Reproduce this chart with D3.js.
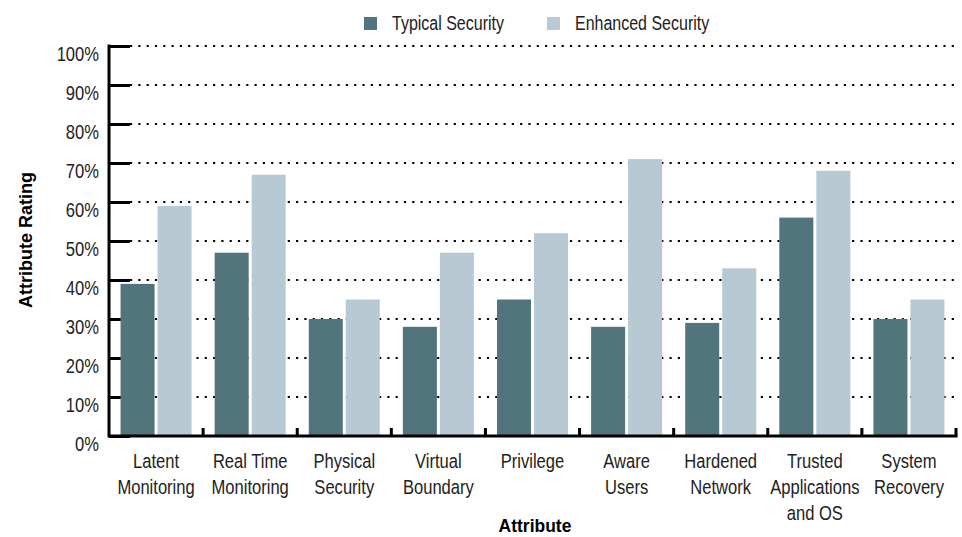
<!DOCTYPE html>
<html>
<head>
<meta charset="utf-8">
<script src="https://cdn.jsdelivr.net/npm/d3@7"></script>
<style>
  html, body { margin: 0; padding: 0; background: #fff; }
  svg { display: block; }
  text { font-family: "Liberation Sans", Arial, sans-serif; fill: #222; }
</style>
</head>
<body>
<svg id="chart" width="962" height="537"></svg>
<script>
// Attribute ratings, in percent
const categories = [
  ["Latent", "Monitoring"],
  ["Real Time", "Monitoring"],
  ["Physical", "Security"],
  ["Virtual", "Boundary"],
  ["Privilege"],
  ["Aware", "Users"],
  ["Hardened", "Network"],
  ["Trusted", "Applications", "and OS"],
  ["System", "Recovery"]
];
const seriesNames = ["Typical Security", "Enhanced Security"];
const typical  = [39, 47, 30, 28, 35, 28, 29, 56, 30];
const enhanced = [59, 67, 35, 47, 52, 71, 43, 68, 35];
const yTicks = [0, 10, 20, 30, 40, 50, 60, 70, 80, 90, 100];
const colors = ["#51747d", "#b7c9d2"];

const svg = d3.select("#chart");
const plotLeft = 109, plotRight = 956, plotTop = 46, plotBottom = 436;
const narrow = 0.85;   // horizontal squeeze for a condensed look
const fs = "19.5px";

const keys = categories.map(c => c.join(" "));
const x0 = d3.scaleBand().domain(keys).range([plotLeft, plotRight]).padding(0);
const x1 = d3.scaleBand().domain(seriesNames).range([0, x0.bandwidth()])
  .paddingInner(0.081).paddingOuter(0.312);
const y = d3.scaleLinear().domain([0, 100]).range([plotBottom, plotTop]);

// dotted horizontal grid
svg.append("g").selectAll("line").data(yTicks.filter(t => t > 0)).join("line")
  .attr("x1", plotLeft + 21).attr("x2", plotRight + 2)
  .attr("y1", d => y(d)).attr("y2", d => y(d))
  .attr("stroke", "#000").attr("stroke-width", 2.2)
  .attr("stroke-dasharray", "2.2,6.1");

// y-axis with long heavy ticks
const yAxis = svg.append("g").attr("transform", `translate(${plotLeft},0)`)
  .call(d3.axisLeft(y).tickValues(yTicks).tickFormat(d => d + "%").tickSize(-21));
yAxis.select(".domain").remove();
yAxis.selectAll(".tick line").attr("stroke", "#000").attr("stroke-width", 3);
yAxis.selectAll(".tick text")
  .attr("x", null).attr("dy", null)
  .attr("transform", `translate(-10,14) scale(${narrow},1)`)
  .attr("text-anchor", "end")
  .style("font-size", fs).style("fill", "#222");

// bars
const groups = svg.append("g").selectAll("g").data(keys).join("g")
  .attr("transform", d => `translate(${x0(d)},0)`);
groups.selectAll("rect")
  .data((d, i) => seriesNames.map((s, j) => ({ s, v: j === 0 ? typical[i] : enhanced[i], j })))
  .join("rect")
  .attr("x", d => x1(d.s))
  .attr("width", x1.bandwidth())
  .attr("y", d => y(d.v))
  .attr("height", d => plotBottom - y(d.v))
  .attr("fill", d => colors[d.j]);

// axis frame lines
svg.append("line").attr("x1", plotLeft).attr("x2", plotLeft).attr("y1", plotTop - 1.5).attr("y2", plotBottom + 1.5)
  .attr("stroke", "#000").attr("stroke-width", 3);
svg.append("line").attr("x1", plotLeft).attr("x2", plotRight + 1.5).attr("y1", plotBottom).attr("y2", plotBottom)
  .attr("stroke", "#000").attr("stroke-width", 3);

// category separator ticks along the x-axis
const bounds = keys.map(k => x0(k) + x0.step());
svg.append("g").selectAll("line").data(bounds).join("line")
  .attr("x1", d => d).attr("x2", d => d)
  .attr("y1", plotBottom).attr("y2", plotBottom - 8)
  .attr("stroke", "#000").attr("stroke-width", 3);

// category labels
const labels = svg.append("g").selectAll("text").data(categories).join("text")
  .attr("transform", (d, i) => `translate(${x0(keys[i]) + x0.bandwidth() / 2},468) scale(${narrow},1)`)
  .attr("text-anchor", "middle")
  .style("font-size", fs);
labels.selectAll("tspan").data(d => d).join("tspan")
  .attr("x", 0)
  .attr("dy", (d, i) => i === 0 ? 0 : 26)
  .text(d => d);

// axis titles
svg.append("text").attr("transform", `translate(535,532) scale(0.92,1)`)
  .attr("text-anchor", "middle").style("font-size", "19px").style("font-weight", "bold")
  .style("fill", "#000").text("Attribute");
svg.append("text").attr("transform", `translate(32,240) rotate(-90) scale(0.95,1)`)
  .attr("text-anchor", "middle").style("font-size", "19px").style("font-weight", "bold")
  .style("fill", "#000").text("Attribute Rating");

// legend
const legendX = [364, 547];
const legend = svg.append("g").selectAll("g").data(seriesNames).join("g")
  .attr("transform", (d, i) => `translate(${legendX[i]},17)`);
legend.append("rect").attr("width", 13).attr("height", 13).attr("fill", (d, i) => colors[i]);
legend.append("text").attr("transform", `translate(28,13) scale(0.82,1)`)
  .style("font-size", fs).text(d => d);
</script>
</body>
</html>
